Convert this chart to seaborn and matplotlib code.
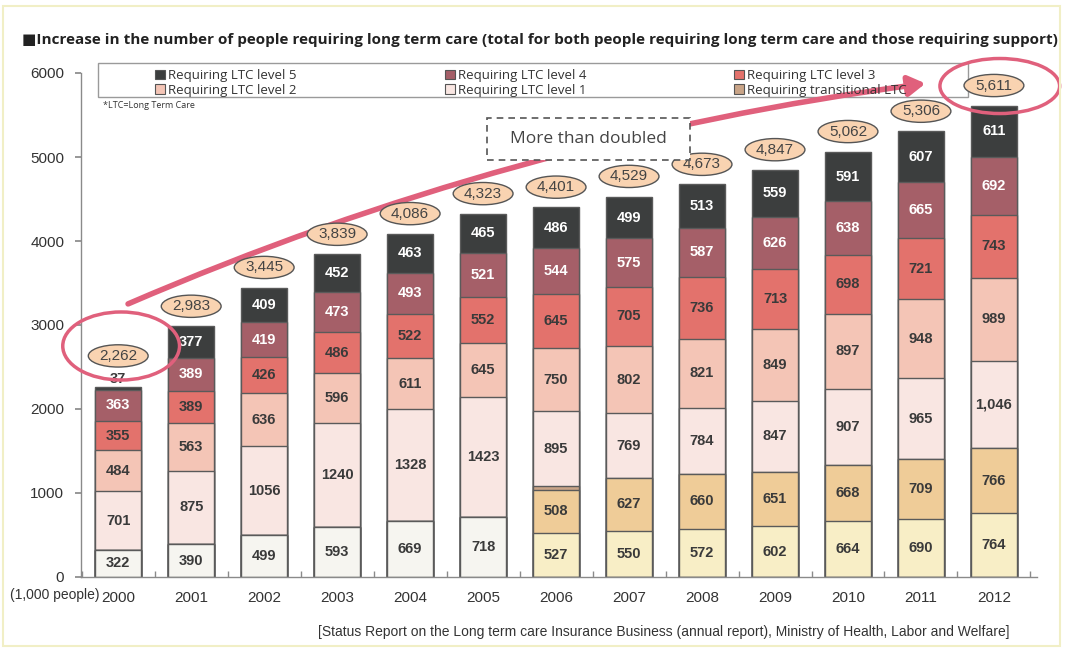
''' Stacked bars: people requiring long term care, 2000-2012 '''
import numpy as np
import pandas as pd
import seaborn as sns
import matplotlib.pyplot as plt
from matplotlib import font_manager
from matplotlib.patches import Ellipse, Rectangle, FancyArrowPatch, Patch

### Data (1,000 people) ###
years = [str(y) for y in range(2000, 2013)]
support = [322, 390, 499, 593, 669, 718, 0, 0, 0, 0, 0, 0, 0]
support_1 = [0, 0, 0, 0, 0, 0, 527, 550, 572, 602, 664, 690, 764]
support_2 = [0, 0, 0, 0, 0, 0, 508, 627, 660, 651, 668, 709, 766]
transitional = [0, 0, 0, 0, 0, 0, 46, 2, 0, 0, 0, 0, 0]
level_1 = [701, 875, 1056, 1240, 1328, 1423, 895, 769, 784, 847, 907, 965, 1046]
level_2 = [484, 563, 636, 596, 611, 645, 750, 802, 821, 849, 897, 948, 989]
level_3 = [355, 389, 426, 486, 522, 552, 645, 705, 736, 713, 698, 721, 743]
level_4 = [363, 389, 419, 473, 493, 521, 544, 575, 587, 626, 638, 665, 692]
level_5 = [37, 377, 409, 452, 463, 465, 486, 499, 513, 559, 591, 607, 611]
totals = [2262, 2983, 3445, 3839, 4086, 4323, 4401, 4529, 4673, 4847, 5062, 5306, 5611]

legend_labels = ["Requiring LTC level 5", "Requiring LTC level 4", "Requiring LTC level 3",
                 "Requiring LTC level 2", "Requiring LTC level 1", "Requiring transitional LTC"]

# bottom -> top: (values, colour, label text colour)
layers = [
    (support, "#f6f5f0", "#3a3a3a"),
    (support_1, "#f8eec6", "#3a3a3a"),
    (support_2, "#efcc98", "#3a3a3a"),
    (transitional, "#c9a487", None),
    (level_1, "#f9e6e2", "#3a3a3a"),
    (level_2, "#f4c5b6", "#3a3a3a"),
    (level_3, "#e3726c", "#3a3a3a"),
    (level_4, "#a55f68", "white"),
    (level_5, "#3c3e3e", "white"),
]

names = {f.name for f in font_manager.fontManager.ttflist}
narrow = "Liberation Sans Narrow" if "Liberation Sans Narrow" in names else "Liberation Sans"

sns.set_theme(style="white")
plt.rcParams["font.family"] = ["Liberation Sans", "DejaVu Sans"]

W, H = 1066, 652
fig = plt.figure(figsize=(W / 100, H / 100), dpi=100)
ax = fig.add_axes([81 / W, 1 - 577 / H, (1037 - 81) / W, (577 - 73) / H])

def fx(px):
    return px / W

def fy(py):
    return 1 - py / H

### Stacked bars (cumulative, drawn top layer first) ###
vals = np.array([l[0] for l in layers], dtype=float)
tops = vals.cumsum(axis=0)
for k in range(len(layers) - 1, -1, -1):
    df = pd.DataFrame({"year": years, "top": tops[k]})
    sns.barplot(data=df, x="year", y="top", color=layers[k][1], saturation=1,
                width=0.63, edgecolor="#5a5a5a", linewidth=1, errorbar=None, ax=ax, zorder=2)

# segment labels (a very thin segment gets its label just above the bar)
for k, (v, c, tc) in enumerate(layers):
    if tc is None:
        continue
    for i in range(len(years)):
        if v[i] <= 0:
            continue
        txt = f"{v[i]:,}" if years[i] == "2012" else str(v[i])
        if v[i] < 100:
            ax.text(i, tops[k][i] + 10, txt, ha="center", va="bottom", color="#3a3a3a",
                    fontsize=10.5, fontweight="bold", zorder=4)
        else:
            ax.text(i, tops[k][i] - v[i] / 2, txt, ha="center", va="center", color=tc,
                    fontsize=10.5, fontweight="bold", zorder=4)

# totals in small ellipses
bar_tops = tops[-1]
for i, t in enumerate(totals):
    yc = bar_tops[i] + (370 if i == 0 else 240)
    ax.add_patch(Ellipse((i, yc), 0.82, 265, facecolor="#f9d3b1", edgecolor="#555555",
                         lw=1, zorder=5, clip_on=False))
    ax.text(i, yc, f"{t:,}", ha="center", va="center", fontsize=11, color="#444444",
            family=narrow, zorder=6)

### Axes styling ###
ax.set_xlim(-0.51, 12.59)
ax.set_ylim(0, 6000)
ax.set_yticks(range(0, 6001, 1000))
ax.set_xlabel("")
ax.set_ylabel("")
for s in ["top", "right"]:
    ax.spines[s].set_visible(False)
for s in ["left", "bottom"]:
    ax.spines[s].set_color("#8a8a8a")
    ax.spines[s].set_linewidth(1)
ax.tick_params(axis="y", which="major", left=True, length=4, color="#8a8a8a",
               labelsize=11, labelcolor="#333333", pad=8)
ax.tick_params(axis="x", which="major", bottom=False, labelsize=11, labelcolor="#333333", pad=4)
ax.set_xticks(np.arange(-0.5, 12.6, 1), minor=True)
ax.tick_params(axis="x", which="minor", bottom=True, direction="in", length=4, color="#8a8a8a")
for lab in ax.get_xticklabels():
    lab.set_family(narrow)

### Legend with box ###
ax.add_patch(Rectangle((fx(98), fy(97)), fx(870), 34 / H, transform=fig.transFigure,
                       facecolor="white", edgecolor="#9a9a9a", lw=1, zorder=1.5, clip_on=False))
leg_colors = ["#3c3e3e", "#a55f68", "#e3726c", "#f4c5b6", "#f9e6e2", "#c9a487"]
handles = [Patch(facecolor=c, edgecolor="#555555", lw=0.8) for c in leg_colors]
order = [0, 3, 1, 4, 2, 5]
leg = fig.legend([handles[j] for j in order], [legend_labels[j] for j in order],
                 ncol=3, loc="upper left", bbox_to_anchor=(fx(146), fy(60)), frameon=False,
                 handlelength=0.75, handleheight=0.75, handletextpad=0.25,
                 columnspacing=11.2, labelspacing=0.12, borderpad=0.2,
                 prop={"family": ["Open Sans", "DejaVu Sans"], "size": 9.5})
for t in leg.get_texts():
    t.set_color("#333333")

fig.text(fx(103), fy(106), "*LTC=Long Term Care", fontsize=6.5, color="#333333",
         va="center", family=["Open Sans", "DejaVu Sans"])

### Annotations: arrow, circles, dashed box ###
arrow = FancyArrowPatch((0.1, 3238), (11.1, 5880), connectionstyle="arc3,rad=-0.07",
                        arrowstyle="-|>,head_length=10,head_width=6", mutation_scale=1,
                        color="#e0607c", lw=4, zorder=4.5, clip_on=False)
ax.add_patch(arrow)
ax.add_patch(Ellipse((0.04, 2750), 1.6, 810, fill=False, edgecolor="#e0607c", lw=2.5,
                     zorder=8, clip_on=False))
ax.add_patch(Ellipse((12.08, 5845), 1.64, 655, fill=False, edgecolor="#e0607c", lw=2.5,
                     zorder=8, clip_on=False))

fig.patches.append(Rectangle((fx(487), fy(160)), fx(203), 42 / H, transform=fig.transFigure,
                             facecolor="white", edgecolor="#555555", lw=1.2, ls=(0, (4, 3)),
                             zorder=9))
fig.text(fx(588), fy(139), "More than doubled", ha="center", va="center", fontsize=12.5,
         color="#444444", family=["Open Sans", "DejaVu Sans"], zorder=10)

### Title, unit, source ###
renderer = fig.canvas.get_renderer()

def fit(t, width_px):
    bb = t.get_window_extent(renderer)
    t.set_fontsize(t.get_fontsize() * width_px / bb.width)

title = fig.text(fx(22), fy(40), "■Increase in the number of people requiring long term care "
                 "(total for both people requiring long term care and those requiring support)",
                 fontsize=11.5, fontweight="bold", color="#222222", va="center",
                 family=["Open Sans", "DejaVu Sans"])
fit(title, 1036)

unit = fig.text(fx(10), fy(595), "(1,000 people)", fontsize=11, color="#333333", va="center",
                family=narrow)
fit(unit, 89)
src = fig.text(fx(318), fy(632), "[Status Report on the Long term care Insurance Business "
               "(annual report), Ministry of Health, Labor and Welfare]",
               fontsize=10, color="#333333", va="center", family=narrow)
fit(src, 694)

# faint scan border
fig.patches.append(Rectangle((fx(3), fy(646)), fx(1057), 640 / H, transform=fig.transFigure,
                             fill=False, edgecolor="#f1efc6", lw=1.5, zorder=0))

fig.savefig("out.png", dpi=100)
